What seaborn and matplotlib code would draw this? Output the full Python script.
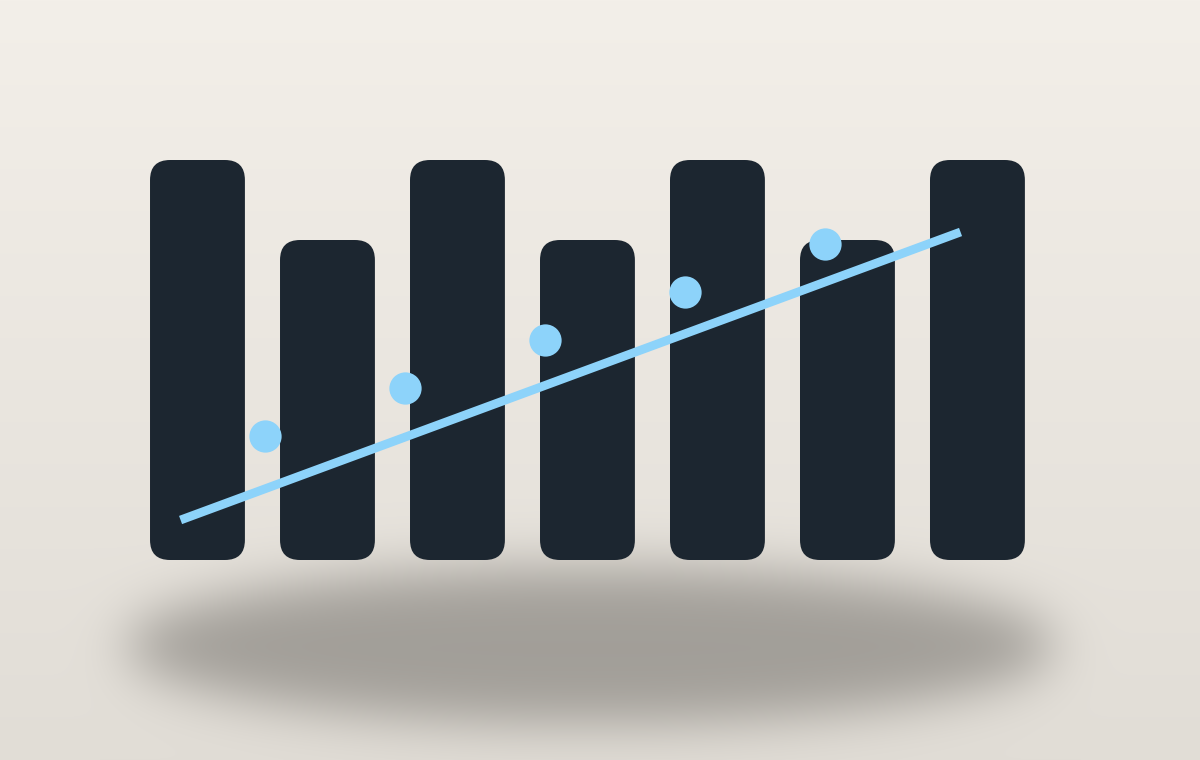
import numpy as np
import pandas as pd
import matplotlib
matplotlib.use("Agg")
import matplotlib.pyplot as plt
import seaborn as sns
from matplotlib.patches import FancyBboxPatch

# bar series (alternating tall / short)
bar_pos = [0, 1, 2, 3, 4, 5, 6]
bar_vals = [10, 8, 10, 8, 10, 8, 10]

# dot series
dot_x = [0.52, 1.60, 2.67, 3.75, 4.83]
dot_y = [3.1, 4.3, 5.5, 6.7, 7.9]

# trend line
line_x = [-0.13, 5.87]
line_y = [1.0, 8.2]

BAR_COLOR = "#1c2630"
ACCENT = "#8dd3fa"

W, H = 1200, 760
fig = plt.figure(figsize=(W / 100, H / 100), dpi=100)

# background gradient + soft shadow
bg_ax = fig.add_axes([0, 0, 1, 1], zorder=-1)
t = np.linspace(0, 1, H)[:, None, None]
top = np.array([243, 239, 233]) / 255
bot = np.array([225, 221, 214]) / 255
bg = np.broadcast_to(top + (bot - top) * t, (H, W, 3)).copy()

Y, X = np.mgrid[0:H, 0:W]
mask = ((((X - 590) / 465) ** 2 + ((Y - 645) / 78) ** 2) <= 1).astype(float)
sig = 26
k = np.arange(-3 * sig, 3 * sig + 1)
kern = np.exp(-0.5 * (k / sig) ** 2)
kern /= kern.sum()
mask = np.apply_along_axis(lambda r: np.convolve(r, kern, mode="same"), 1, mask)
mask = np.apply_along_axis(lambda c: np.convolve(c, kern, mode="same"), 0, mask)
shade = np.array([97, 94, 89]) / 255
a = (0.5 * mask)[..., None]
bg = bg * (1 - a) + shade * a
bg_ax.imshow(bg, aspect="auto", interpolation="bilinear")
bg_ax.axis("off")

ax = fig.add_axes([0, 0, 1, 1])
ax.patch.set_alpha(0)

df = pd.DataFrame({"pos": bar_pos, "val": bar_vals})
sns.barplot(data=df, x="pos", y="val", native_scale=True, width=0.73,
            color=BAR_COLOR, saturation=1, ax=ax)

# swap plain rectangles for rounded ones
rects = list(ax.patches)
for r in rects:
    x0, y0 = r.get_x(), r.get_y()
    w, h = r.get_width(), r.get_height()
    r.remove()
    ax.add_patch(FancyBboxPatch((x0, y0), w, h,
                                boxstyle="round,pad=0,rounding_size=0.154",
                                mutation_aspect=3.25, facecolor=BAR_COLOR,
                                edgecolor="none", zorder=2))

sns.lineplot(x=line_x, y=line_y, color=ACCENT, linewidth=6.3, ax=ax,
             solid_capstyle="butt", zorder=3)
sns.scatterplot(x=dot_x, y=dot_y, color=ACCENT, s=540, linewidth=0,
                ax=ax, zorder=4)

ax.set_xlim(-1.519, 7.712)
ax.set_ylim(-5, 14)
ax.axis("off")

fig.savefig("out.png", dpi=100)
